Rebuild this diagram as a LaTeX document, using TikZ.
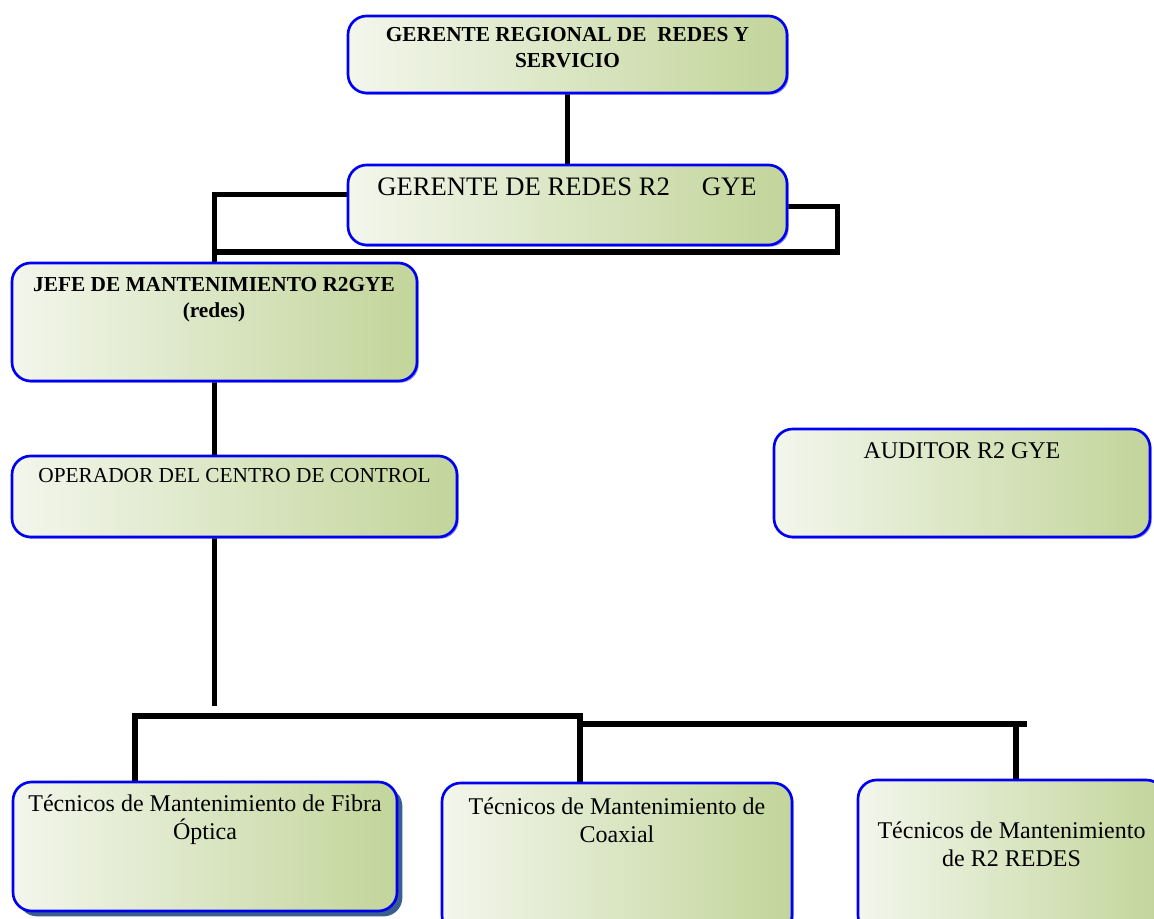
\documentclass[tikz,border=0pt]{standalone}
\usepackage{fontspec}
\setmainfont{Liberation Serif}
\usetikzlibrary{fit,shadows,calc}
\pgfdeclarelayer{bg}
\pgfsetlayers{bg,main}
\definecolor{boxL}{HTML}{F3F6EC}
\definecolor{boxR}{HTML}{C2D59A}
\definecolor{edge}{HTML}{0000F0}
\definecolor{glow}{HTML}{7070FF}
\definecolor{deepsh}{HTML}{3A5E8E}
\begin{document}
\begin{tikzpicture}[x=0.75pt,y=-0.75pt,
  orgbox/.style={rounded corners=14pt, draw=edge, line width=2pt,
    left color=boxL, right color=boxR, inner sep=0pt},
  lightshadow/.style={drop shadow={shadow xshift=1.3pt, shadow yshift=-1.3pt, fill=glow, opacity=0.8}},
  deepshadow/.style={drop shadow={shadow xshift=4pt, shadow yshift=-4pt, fill=deepsh, opacity=1}},
  conn/.style={line width=4pt, draw=black, line join=miter},
  lbl/.style={inner sep=0pt, align=center, text=black},
  fsixb/.style={lbl, font=\fontsize{16}{19.5}\selectfont\bfseries},
  fsix/.style={lbl, font=\fontsize{16}{19.5}\selectfont},
  feight/.style={lbl, font=\fontsize{18}{21}\selectfont},
  ftwenty/.style={lbl, font=\fontsize{20}{24}\selectfont}]
\useasboundingbox (0,0) rectangle (1154,919);
\clip (0,0) rectangle (1154,919);

% boxes
\node[orgbox, lightshadow, fit={(348,16)(787,93)}] (top) {};
\node[orgbox, lightshadow, fit={(348,165)(787,245)}] (ger) {};
\node[orgbox, lightshadow, fit={(12,263)(417,381)}] (jefe) {};
\node[orgbox, lightshadow, fit={(12,456)(457,537)}] (op) {};
\node[orgbox, lightshadow, fit={(774,429)(1150,537)}] (aud) {};
\node[orgbox, deepshadow, fit={(13,782)(397,911)}] (fib) {};
\node[orgbox, lightshadow, fit={(442,783)(792,934)}] (coax) {};
\node[orgbox, lightshadow, fit={(858,780)(1165,934)}] (red) {};

% texts
\node[fsixb, anchor=north] (toptxt) at (567.5,27) {GERENTE REGIONAL DE\ \ REDES Y\\SERVICIO};
\node[ftwenty, anchor=base] (gertxt) at (567,196) {GERENTE DE REDES R2\hspace{24pt}GYE};
\node[fsixb, anchor=north] (jefetxt) at (214,277) {JEFE DE MANTENIMIENTO R2GYE\\(redes)};
\node[fsix, anchor=base] (optxt) at (234.5,483) {OPERADOR DEL CENTRO DE CONTROL};
\node[feight, anchor=base] (audtxt) at (962,459) {AUDITOR R2 GYE};
\node[feight, anchor=north] (fibtxt) at (205,795) {Técnicos de Mantenimiento de Fibra\\Óptica};
\node[feight, anchor=north] (coaxtxt) at (617,798) {Técnicos de Mantenimiento de\\Coaxial};
\node[feight, anchor=north] (redtxt) at (1011.5,822) {Técnicos de Mantenimiento\\de R2 REDES};

% connectors
\coordinate (stub) at (214.5,706);
\coordinate (bl) at (135,716);
\coordinate (bm) at (580,716);
\coordinate (bm2) at (580,724);
\coordinate (br) at (1027,724);
\coordinate (rv) at (1016,724);
\begin{pgfonlayer}{bg}
\fill[white] (0,0) rectangle (1154,919);
\draw[conn] (top) -- (ger);
\draw[conn] (jefe.north) |- ($(ger.west)+(0,-10.5)$);
\draw[conn] ($(ger.east)+(0,1.5)$) -- ++(49,0) |- (jefe.north |- 0,252);
\draw[conn] (jefe.south) -- (jefe.south |- op.north);
\draw[conn] (op.south -| stub) -- (stub);
\draw[conn] (fib.north -| bl) -- (bl) -- (bm) -- (coax.north -| bm);
\draw[conn] (bm2) -- (br);
\draw[conn] (rv) -- (red.north -| rv);
\end{pgfonlayer}
\end{tikzpicture}
\end{document}
